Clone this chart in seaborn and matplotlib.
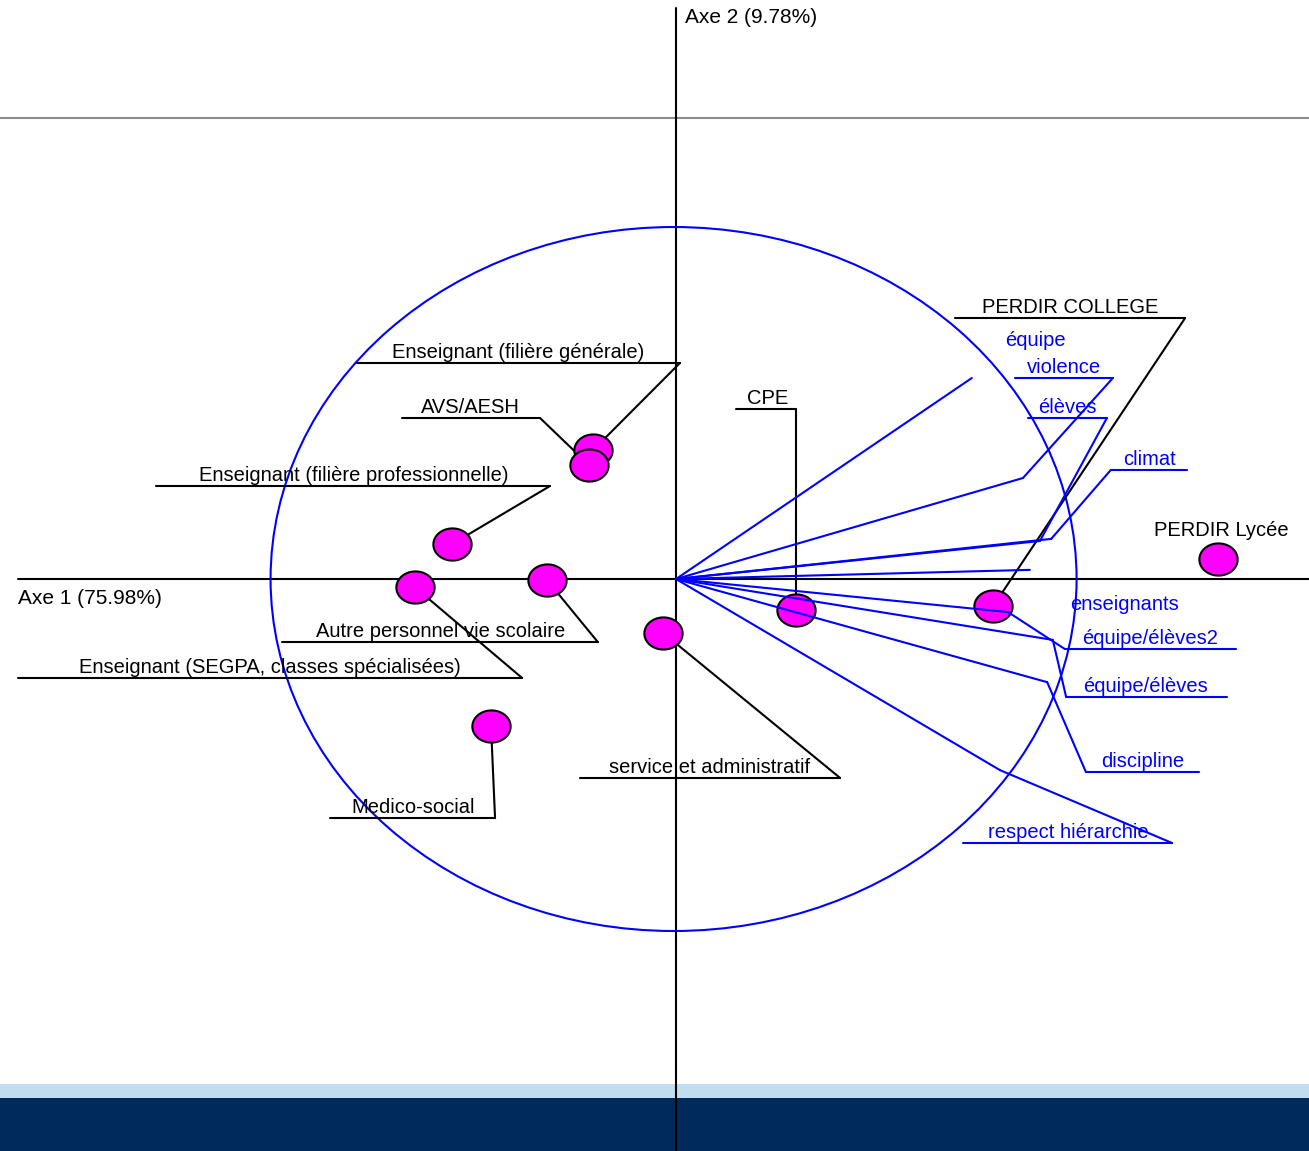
import numpy as np
import pandas as pd
import matplotlib
matplotlib.use("Agg")
import matplotlib.pyplot as plt
from matplotlib.patches import Circle
import seaborn as sns

# row points (categories de personnel), axe 1 / axe 2
row_labels = ["Enseignant (filière générale)", "AVS/AESH", "Enseignant (filière professionnelle)",
              "Autre personnel vie scolaire", "Enseignant (SEGPA, classes spécialisées)",
              "service et administratif", "Medico-social", "CPE", "PERDIR COLLEGE", "PERDIR Lycée"]
row_ax1 = [-0.206, -0.216, -0.556, -0.320, -0.648, -0.032, -0.459, 0.298, 0.787, 1.345]
row_ax2 = [0.366, 0.324, 0.099, -0.003, -0.023, -0.153, -0.418, -0.088, -0.077, 0.057]

# column vectors (variables)
col_labels = ["équipe", "violence", "élèves", "climat", "enseignants",
              "équipe/élèves2", "équipe/élèves", "discipline", "respect hiérarchie"]
col_ax1 = [0.734, 0.861, 0.903, 0.931, 0.878, 0.824, 0.935, 0.921, 0.804]
col_ax2 = [0.571, 0.287, 0.108, 0.114, 0.026, -0.094, -0.173, -0.293, -0.543]

inertia = [75.98, 9.78]

# label placement: text x, underline y, underline x0, x1, leader end x (None = no underline)
row_layout = [
    (-0.392, 0.614, -0.792, 0.010, 0.010),
    (-0.511, 0.457, -0.680, -0.337, -0.337),
    (-0.799, 0.264, -1.290, -0.313, -0.313),
    (-0.583, -0.179, -0.978, -0.194, -0.194),
    (-1.007, -0.281, -1.633, -0.382, -0.382),
    (0.084, -0.565, -0.238, 0.407, 0.407),
    (-0.653, -0.679, -0.859, -0.449, -0.449),
    (0.228, 0.483, 0.149, 0.298, 0.298),
    (0.978, 0.741, 0.692, 1.263, 1.263),
    (1.352, 0.110, None, None, None),
]
col_layout = [
    (0.891, 0.652, None, None, None),
    (0.963, 0.571, 0.841, 1.084, 1.084),
    (0.970, 0.457, 0.873, 1.069, 1.069),
    (1.176, 0.310, 1.079, 1.268, 1.079),
    (1.114, -0.098, None, None, None),
    (1.176, -0.199, 0.965, 1.390, 0.965),
    (1.166, -0.335, 0.968, 1.367, 0.968),
    (1.159, -0.548, 1.017, 1.298, 1.017),
    (0.973, -0.750, 0.712, 1.231, 1.231),
]

sns.set_theme(style="white")
plt.rcParams["font.family"] = ["Liberation Sans", "DejaVu Sans"]
plt.rcParams["text.color"] = "black"

BLUE = "#0000ff"
fs = 14.5

fig = plt.figure(figsize=(13.09, 11.51), dpi=100)
ax = fig.add_axes([0, 0, 1, 1])
ax.set_xlim(-1.6774, 1.5707)
ax.set_ylim(-1.625, 1.645)
ax.axis("off")

# slide decorations
ax.axhline(1.3097, color="#8c8c8c", lw=1.5, zorder=1)
ax.axhspan(-1.4744, -1.4347, color="#c2ddef", lw=0, zorder=1)
ax.axhspan(-1.625, -1.4744, color="#002a5c", lw=0, zorder=1)

# axes
ax.plot([-1.633, 1.6], [0, 0], color="black", lw=1.5, zorder=2)
ax.plot([0, 0], [-1.7, 1.622], color="black", lw=1.5, zorder=2)
ax.text(-1.633, -0.056, f"Axe 1 ({inertia[0]:.2f}%)", fontsize=15, color="black",
        ha="left", va="center", zorder=5)
ax.text(0.022, 1.594, f"Axe 2 ({inertia[1]:.2f}%)", fontsize=15, color="black",
        ha="left", va="center", zorder=5)

# correlation circle
ax.add_patch(Circle((-0.006, 0.0), 1.0, fill=False, ec=BLUE, lw=1.5, zorder=3))

rows = pd.DataFrame({"label": row_labels, "ax1": row_ax1, "ax2": row_ax2})
cols = pd.DataFrame({"label": col_labels, "ax1": col_ax1, "ax2": col_ax2})

# row labels with leader lines (under the markers)
for (_, r), (tx, uy, u0, u1, lx) in zip(rows.iterrows(), row_layout):
    if u0 is not None:
        ax.plot([u0, u1], [uy, uy], color="black", lw=1.5, zorder=3)
        ax.plot([lx, r.ax1], [uy, r.ax2], color="black", lw=1.5, zorder=3)
        ax.annotate(r.label, (tx, uy), xytext=(0, 1), textcoords="offset points",
                    ha="center", va="bottom", fontsize=fs, color="black", zorder=6)
    else:
        ax.text(tx, uy, r.label, ha="center", va="bottom", fontsize=fs, color="black", zorder=6)

# ellipse-shaped markers
t = np.linspace(0, 2 * np.pi, 60)
ell = list(zip(np.cos(t), 0.84 * np.sin(t)))
sns.scatterplot(data=rows, x="ax1", y="ax2", marker=ell, s=760, color="#ff00ff",
                edgecolor="black", linewidth=1.5, ax=ax, zorder=4, legend=False)

# column vectors and their labels (drawn over the markers)
for (_, c), (tx, uy, u0, u1, lx) in zip(cols.iterrows(), col_layout):
    ax.plot([0, c.ax1], [0, c.ax2], color=BLUE, lw=1.5, zorder=5)
    if u0 is not None:
        ax.plot([u0, u1], [uy, uy], color=BLUE, lw=1.5, zorder=5)
        ax.plot([lx, c.ax1], [uy, c.ax2], color=BLUE, lw=1.5, zorder=5)
        ax.annotate(c.label, (tx, uy), xytext=(0, 1), textcoords="offset points",
                    ha="center", va="bottom", fontsize=fs, color=BLUE, zorder=6)
    else:
        ax.text(tx, uy, c.label, ha="center", va="bottom", fontsize=fs, color=BLUE, zorder=6)

ax.set_xlabel("")
ax.set_ylabel("")
fig.savefig("out.png", dpi=100)
